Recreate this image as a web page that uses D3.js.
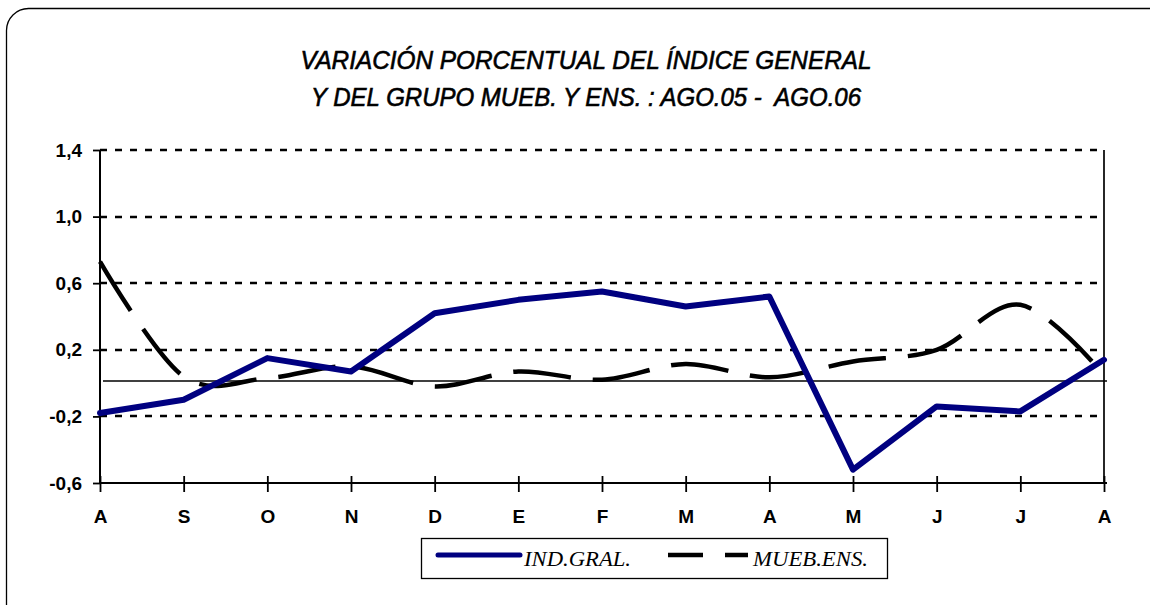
<!DOCTYPE html>
<html>
<head>
<meta charset="utf-8">
<script src="https://cdn.jsdelivr.net/npm/d3@7"></script>
<style>
    html, body { margin: 0; padding: 0; background: #fff; }
    svg { display: block; }
    .tick text { font-family: "Liberation Sans", Arial, sans-serif; font-weight: bold; font-size: 19px; fill: #000; }
</style>
</head>
<body>
<div id="chart"></div>
<script>
(function () {

    'use strict';

    var months = ['A', 'S', 'O', 'N', 'D', 'E', 'F', 'M', 'A', 'M', 'J', 'J', 'A'];

    var indGral = [-0.18, -0.10, 0.15, 0.07, 0.42, 0.50, 0.55, 0.46, 0.52, -0.52, -0.14, -0.17, 0.14];
    var muebEns = [0.73, 0.04, 0.03, 0.10, -0.02, 0.07, 0.02, 0.115, 0.035, 0.13, 0.20, 0.47, 0.05];

    var yTicks = [-0.6, -0.2, 0.2, 0.6, 1.0, 1.4];

    var titleLines = [
        'VARIACIÓN PORCENTUAL DEL ÍNDICE GENERAL',
        'Y DEL GRUPO MUEB. Y ENS. : AGO.05 -  AGO.06'
    ];

    var seriesNames = ['IND.GRAL.', 'MUEB.ENS.'];

    var width = 1150;
    var height = 605;

    var plot = {left: 100, right: 1104, top: 150, bottom: 483};

    var svg = d3.select('#chart')
        .append('svg')
            .attr('width', width)
            .attr('height', height);

    // outer rounded frame (runs off the right and bottom edge)
    svg.append('rect')
        .attr('x', 6.5)
        .attr('y', 8.5)
        .attr('width', 1170)
        .attr('height', 620)
        .attr('rx', 22)
        .attr('fill', 'none')
        .attr('stroke', '#000')
        .attr('stroke-width', 1.3);

    // title
    var titleWidths = [571, 550];
    svg.selectAll('text.title')
        .data(titleLines)
        .enter()
        .append('text')
            .attr('class', 'title')
            .attr('x', 586)
            .attr('y', function (d, i) { return 69 + i * 37; })
            .attr('text-anchor', 'middle')
            .attr('textLength', function (d, i) { return titleWidths[i]; })
            .attr('lengthAdjust', 'spacingAndGlyphs')
            .style('white-space', 'pre')
            .style('font-family', '"Liberation Sans", Arial, sans-serif')
            .style('font-style', 'italic')
            .style('font-size', '25px')
            .style('stroke', '#000')
            .style('stroke-width', 0.6)
            .text(function (d) { return d; });

    var x = d3.scaleLinear()
        .domain([0, months.length - 1])
        .range([plot.left, plot.right]);

    var y = d3.scaleLinear()
        .domain([-0.6, 1.4])
        .range([plot.bottom, plot.top]);

    var commaFormat = d3.formatLocale({decimal: ',', thousands: '.', grouping: [3], currency: ['', ''], minus: '-'}).format('.1f');

    // grid lines
    svg.append('g')
        .selectAll('line')
        .data(yTicks.filter(function (v) { return v > -0.6; }))
        .enter()
        .append('line')
            .attr('x1', plot.left)
            .attr('x2', plot.right)
            .attr('y1', function (d) { return Math.round(y(d)); })
            .attr('y2', function (d) { return Math.round(y(d)); })
            .attr('stroke', '#000')
            .attr('stroke-width', 2.5)
            .attr('stroke-dasharray', '7,8');

    // zero line
    svg.append('line')
        .attr('x1', plot.left + 3)
        .attr('x2', plot.right + 3)
        .attr('y1', Math.round(y(0)) - 2)
        .attr('y2', Math.round(y(0)) - 2)
        .attr('stroke', '#000')
        .attr('stroke-width', 1.5);

    // right border
    svg.append('line')
        .attr('x1', plot.right)
        .attr('x2', plot.right)
        .attr('y1', plot.top)
        .attr('y2', plot.bottom)
        .attr('stroke', '#000')
        .attr('stroke-width', 1.7);

    // y axis
    var yAxis = svg.append('g')
        .attr('transform', 'translate(' + plot.left + ',0)')
        .call(d3.axisLeft(y)
            .tickValues(yTicks)
            .tickSize(7)
            .tickPadding(11)
            .tickFormat(commaFormat));

    yAxis.select('.domain')
        .attr('stroke-width', 2)
        .attr('d', 'M0,' + plot.top + 'V' + plot.bottom);
    yAxis.selectAll('.tick line').attr('stroke-width', 1.8);

    // x axis, ticks cross the line
    var xAxis = svg.append('g')
        .attr('transform', 'translate(0,' + plot.bottom + ')')
        .call(d3.axisBottom(x)
            .tickValues(d3.range(months.length))
            .tickSize(9)
            .tickPadding(18)
            .tickFormat(function (i) { return months[i]; }));

    xAxis.select('.domain')
        .attr('stroke-width', 2)
        .attr('d', 'M' + plot.left + ',0H' + (plot.right + 3));
    xAxis.selectAll('.tick line')
        .attr('y1', -7)
        .attr('stroke-width', 1.8);

    // series
    var lineInd = d3.line()
        .x(function (d, i) { return x(i); })
        .y(function (d) { return y(d); });

    var lineMueb = d3.line()
        .x(function (d, i) { return x(i); })
        .y(function (d) { return y(d); })
        .curve(d3.curveCardinal.tension(0));

    svg.append('path')
        .datum(muebEns)
        .attr('d', lineMueb)
        .attr('fill', 'none')
        .attr('stroke', '#000')
        .attr('stroke-width', 4.5)
        .attr('stroke-dasharray', '58,22');

    svg.append('path')
        .datum(indGral)
        .attr('d', lineInd)
        .attr('fill', 'none')
        .attr('stroke', '#000080')
        .attr('stroke-width', 6)
        .attr('stroke-linejoin', 'round')
        .attr('stroke-linecap', 'round');

    // legend
    var legend = svg.append('g');

    legend.append('rect')
        .attr('x', 421.5)
        .attr('y', 538.5)
        .attr('width', 466)
        .attr('height', 40)
        .attr('fill', '#fff')
        .attr('stroke', '#000')
        .attr('stroke-width', 1.3);

    legend.append('line')
        .attr('x1', 438)
        .attr('x2', 520)
        .attr('y1', 555)
        .attr('y2', 555)
        .attr('stroke', '#000080')
        .attr('stroke-width', 5)
        .attr('stroke-linecap', 'round');

    legend.append('line')
        .attr('x1', 668)
        .attr('x2', 748)
        .attr('y1', 555)
        .attr('y2', 555)
        .attr('stroke', '#000')
        .attr('stroke-width', 4.5)
        .attr('stroke-dasharray', '35,22');

    var legendText = [
        {x: 524, w: 107},
        {x: 753, w: 115}
    ];

    legend.selectAll('text')
        .data(seriesNames)
        .enter()
        .append('text')
            .attr('x', function (d, i) { return legendText[i].x; })
            .attr('y', 566)
            .attr('textLength', function (d, i) { return legendText[i].w; })
            .attr('lengthAdjust', 'spacingAndGlyphs')
            .style('font-family', '"Liberation Serif", "Times New Roman", serif')
            .style('font-style', 'italic')
            .style('font-size', '20px')
            .text(function (d) { return d; });

}());
</script>
</body>
</html>
